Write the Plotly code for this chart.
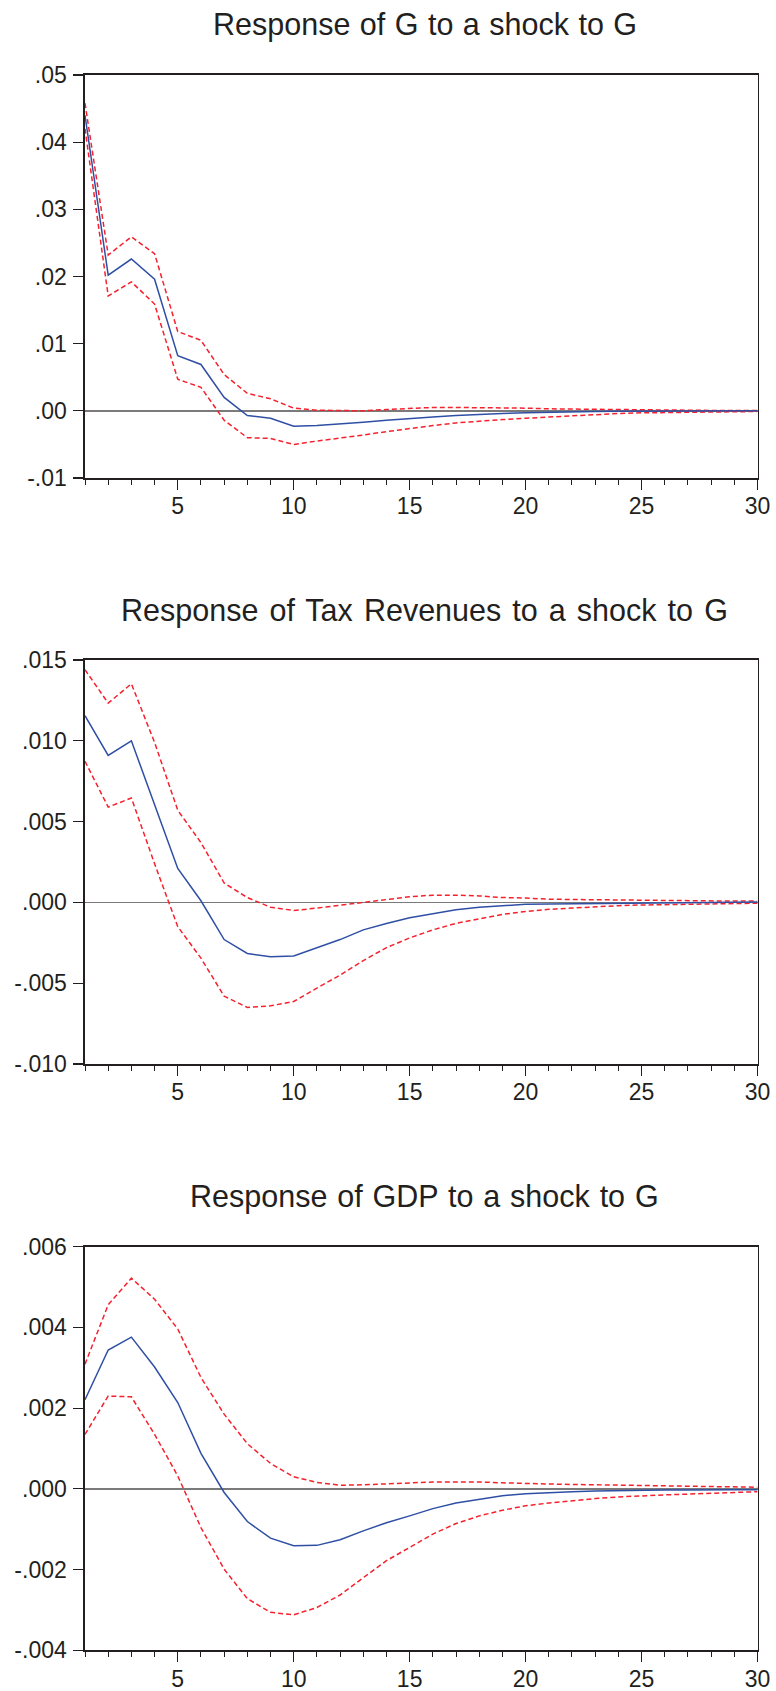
import plotly.graph_objects as go

periods = list(range(1, 31))

# Panel 1: Response of G to a shock to G
g_resp = [0.0440, 0.0202, 0.0226, 0.0196, 0.0082, 0.0069, 0.0020, -0.0007, -0.0011, -0.0023,
          -0.0022, -0.0020, -0.0017, -0.0014, -0.0011, -0.0009, -0.0007, -0.0005, -0.0004, -0.0003,
          -0.0002, -0.00015, -0.0001, -0.00007, -0.00005, -0.00003, -0.00002, -0.00001, 0.0, 0.0]
g_upper = [0.0458, 0.0232, 0.0259, 0.0234, 0.0118, 0.0105, 0.0054, 0.0026, 0.0018, 0.0004,
           0.0001, 0.0000, 0.0000, 0.0002, 0.0004, 0.0005, 0.0005, 0.0005, 0.0005, 0.0004,
           0.0003, 0.00025, 0.0002, 0.00015, 0.00012, 0.0001, 0.00008, 0.00006, 0.00005, 0.00004]
g_lower = [0.0420, 0.0171, 0.0192, 0.0159, 0.0047, 0.0035, -0.0014, -0.0040, -0.0041, -0.0050,
           -0.0045, -0.0041, -0.0036, -0.0031, -0.0026, -0.0022, -0.0018, -0.0015, -0.0013, -0.0011,
           -0.0009, -0.0007, -0.0005, -0.0004, -0.0003, -0.00025, -0.0002, -0.00015, -0.00012, -0.0001]

# Panel 2: Response of Tax Revenues to a shock to G
t_resp = [0.01155, 0.0091, 0.0100, 0.0061, 0.0021, 0.0001, -0.0023, -0.00316, -0.00336, -0.00332,
          -0.0028, -0.0023, -0.0017, -0.0013, -0.00095, -0.0007, -0.00045, -0.0003, -0.0002, -0.00012,
          -0.0001, -0.00008, -0.00006, -0.00004, -0.00003, -0.00002, -0.00001, 0.0, 0.00001, 0.00002]
t_upper = [0.0144, 0.01233, 0.01353, 0.0099, 0.0057, 0.0037, 0.0012, 0.0003, -0.0003, -0.0005,
           -0.00035, -0.00017, 0.0, 0.00017, 0.00035, 0.00045, 0.00045, 0.0004, 0.0003, 0.00027,
           0.0002, 0.00018, 0.00016, 0.00014, 0.00012, 0.0001, 0.0001, 0.00009, 0.00008, 0.00008]
t_lower = [0.00873, 0.0059, 0.00646, 0.0024, -0.0015, -0.00345, -0.0058, -0.0065, -0.0064, -0.00613,
           -0.0053, -0.0045, -0.0036, -0.0028, -0.0022, -0.0017, -0.0013, -0.0010, -0.00074, -0.00056,
           -0.00043, -0.00035, -0.00027, -0.0002, -0.00016, -0.00013, -0.0001, -0.00008, -0.00006, -0.00005]

# Panel 3: Response of GDP to a shock to G
y_resp = [0.00221, 0.00344, 0.00376, 0.00302, 0.00214, 0.00088, -0.00009, -0.00081, -0.00122, -0.00141,
          -0.0014, -0.00126, -0.00104, -0.00084, -0.00067, -0.00049, -0.00035, -0.00026, -0.00017, -0.00012,
          -0.00009, -0.00007, -0.00005, -0.00004, -0.00004, -0.00003, -0.00003, -0.00002, -0.00002, -0.00002]
y_upper = [0.00309, 0.00456, 0.00522, 0.0047, 0.00396, 0.00276, 0.00185, 0.00112, 0.00063, 0.0003,
           0.00016, 0.00009, 0.0001, 0.00012, 0.00015, 0.00017, 0.00017, 0.00017, 0.00015, 0.00013,
           0.00012, 0.00011, 0.0001, 0.0001, 0.00009, 0.00008, 0.00007, 0.00006, 0.00005, 0.00004]
y_lower = [0.00135, 0.0023, 0.00228, 0.00135, 0.00032, -0.00096, -0.00199, -0.00272, -0.00306, -0.00312,
           -0.00294, -0.00263, -0.0022, -0.00178, -0.00145, -0.00112, -0.00086, -0.00067, -0.00053, -0.00042,
           -0.00035, -0.00029, -0.00024, -0.0002, -0.00017, -0.00015, -0.00013, -0.00011, -0.00009, -0.00007]

titles = ["Response of G to a shock to G",
          "Response of Tax Revenues to a shock to G",
          "Response of GDP to a shock to G"]

ytick_vals = [
    [-0.01, 0.0, 0.01, 0.02, 0.03, 0.04, 0.05],
    [-0.010, -0.005, 0.0, 0.005, 0.010, 0.015],
    [-0.004, -0.002, 0.0, 0.002, 0.004, 0.006],
]
ytick_text = [
    ["-.01", ".00", ".01", ".02", ".03", ".04", ".05"],
    ["-.010", "-.005", ".000", ".005", ".010", ".015"],
    ["-.004", "-.002", ".000", ".002", ".004", ".006"],
]
y_ranges = [[-0.01, 0.05], [-0.010, 0.015], [-0.004, 0.006]]

W, H = 776, 1691
# pixel geometry of the plot areas
px_left, px_right = 85, 757.5
px_tops = [75, 660, 1246.7]
px_bots = [478, 1064, 1650.3]
title_centers = [24, 610, 1196]
title_x_center = 424.5
title_word_spacing = [1, 2.6, 1.4]

BLUE = "#2F4FA5"
RED = "#F5222E"
FONT = "Arial, 'Liberation Sans', sans-serif"
TXT = "#231F20"

fig = go.Figure()
series = [(g_resp, g_upper, g_lower), (t_resp, t_upper, t_lower), (y_resp, y_upper, y_lower)]

for i, (resp, up, lo) in enumerate(series):
    xa = "x" if i == 0 else f"x{i+1}"
    ya = "y" if i == 0 else f"y{i+1}"
    for vals in (up, lo):
        fig.add_trace(go.Scatter(x=periods, y=vals, mode="lines", xaxis=xa, yaxis=ya,
                                 line=dict(color=RED, width=1.5, dash="5px,3px"),
                                 showlegend=False, hoverinfo="skip"))
    fig.add_trace(go.Scatter(x=periods, y=resp, mode="lines", xaxis=xa, yaxis=ya,
                             line=dict(color=BLUE, width=1.5),
                             showlegend=False))

layout = dict(
    width=W, height=H,
    margin=dict(l=0, r=0, t=0, b=0, autoexpand=False),
    paper_bgcolor="white", plot_bgcolor="white",
    font=dict(family=FONT, color=TXT, size=23),
    showlegend=False,
    annotations=[],
)

xdom = [px_left / W, px_right / W]
for i in range(3):
    suffix = "" if i == 0 else str(i + 1)
    ydom = [1 - px_bots[i] / H, 1 - px_tops[i] / H]
    layout["xaxis" + suffix] = dict(
        domain=xdom, anchor="y" + suffix, range=[1, 30], automargin=False,
        tickmode="linear", tick0=0, dtick=5,
        ticks="outside", ticklen=10, tickwidth=1.2, tickcolor="#231F20",
        showline=True, linecolor="#231F20", linewidth=1.6, mirror=True,
        showgrid=False, zeroline=False,
        tickfont=dict(size=23, family=FONT, color=TXT),
        ticklabelstandoff=-3,
        minor=dict(dtick=1, tick0=0, ticks="outside", ticklen=5, tickwidth=1.0,
                   tickcolor="#231F20", showgrid=False),
    )
    layout["yaxis" + suffix] = dict(
        domain=ydom, anchor="x" + suffix, range=y_ranges[i], automargin=False,
        tickmode="array", tickvals=ytick_vals[i], ticktext=ytick_text[i],
        ticks="outside", ticklen=10, tickwidth=1.2, tickcolor="#231F20",
        showline=True, linecolor="#231F20", linewidth=1.6, mirror=True,
        showgrid=False,
        zeroline=True, zerolinecolor="#7A7A7A", zerolinewidth=1.4,
        tickfont=dict(size=23, family=FONT, color=TXT),
        ticklabelstandoff=2,
    )
    layout["annotations"].append(dict(
        text=f'<span style="word-spacing:{title_word_spacing[i]}px">{titles[i]}</span>',
        xref="paper", yref="paper",
        x=title_x_center / W, y=1 - title_centers[i] / H,
        xanchor="center", yanchor="middle", showarrow=False,
        font=dict(size=30.5, family=FONT, color=TXT),
    ))

fig.update_layout(**layout)
fig.write_html(
    "out.html",
    config={"displayModeBar": False, "staticPlot": True},
    post_script="document.body.style.margin='0';document.body.style.overflow='hidden';",
)
